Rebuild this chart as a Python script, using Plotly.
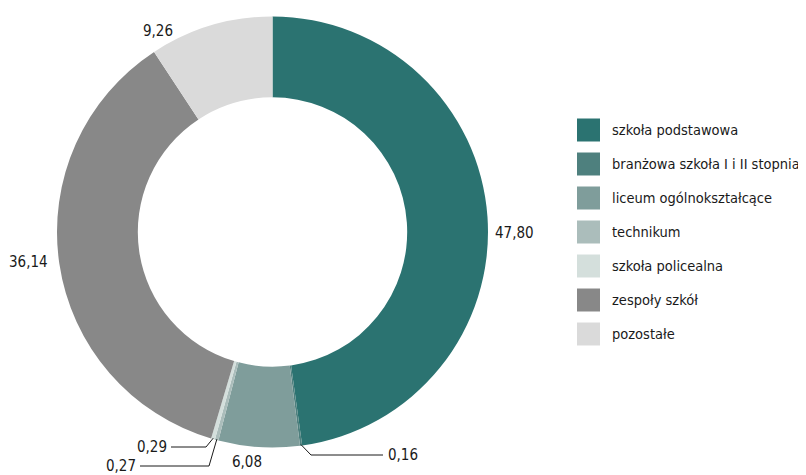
import math
import plotly.graph_objects as go

# Dane -------------------------------------------------------------
kategorie = ["szkoła podstawowa", "branżowa szkoła I i II stopnia",
             "liceum ogólnokształcące", "technikum", "szkoła policealna",
             "zespoły szkół", "pozostałe"]
udzialy = [47.80, 0.16, 6.08, 0.27, 0.29, 36.14, 9.26]
etykiety = ["47,80", "0,16", "6,08", "0,27", "0,29", "36,14", "9,26"]
kolory = ["#2b7371", "#4e807e", "#7f9d9b", "#abbdbb", "#d4dfdc",
          "#888888", "#dadada"]

W, H = 806, 475
OFF = 8  # domyślny margines <body> w przeglądarce
FONT = "DejaVu Sans Condensed, Liberation Sans Narrow, sans-serif"
FS = 15

# geometria pierścienia w pikselach okna
cx, cy, r_out = 272.5, 232, 215.5


def px(x):
    return (x - OFF) / W


def py(y):
    return 1 - (y - OFF) / H


def punkt_na_obwodzie(i, r):
    # środek kątowy wycinka i (zgodnie z ruchem wskazówek zegara od godz. 12)
    before = sum(udzialy[:i])
    ang = math.radians((before + udzialy[i] / 2) / sum(udzialy) * 360)
    return cx + r * math.sin(ang), cy - r * math.cos(ang)


fig = go.Figure(go.Pie(
    labels=kategorie, values=udzialy, sort=False, direction="clockwise",
    rotation=0, hole=0.625, textinfo="none", hoverinfo="label+value",
    marker=dict(colors=kolory, line=dict(width=0)),
    domain=dict(x=[px(cx - r_out), px(cx + r_out)],
                y=[py(cy + r_out), py(cy - r_out)]),
    showlegend=False))

annotations = []
shapes = []
font = dict(family=FONT, size=FS, color="#1a1a1a")

# etykiety bez linii odniesienia: (indeks, x, y, xanchor)
pozycje = [(0, 493, 233, "left"), (2, 247, 462, "center"),
           (5, 50, 262, "right"), (6, 175, 31, "right")]
for i, x, y, xa in pozycje:
    annotations.append(dict(x=px(x), y=py(y), xref="paper", yref="paper",
                            text=etykiety[i], showarrow=False, xanchor=xa,
                            yanchor="middle", font=font))

# etykiety z liniami odniesienia: (indeks, łokieć, koniec linii, xanchor)
odnosniki = [(1, (311, 455), (383, 455), "left"),
             (3, (209, 466), (140, 466), "right"),
             (4, (206, 447), (171, 447), "right")]
for i, (ex, ey), (kx, ky), xa in odnosniki:
    sx, sy = punkt_na_obwodzie(i, r_out - 1)
    shapes.append(dict(type="path", xref="paper", yref="paper",
                       path=f"M {px(sx)} {py(sy)} L {px(ex)} {py(ey)} L {px(kx)} {py(ky)}",
                       line=dict(color="#1a1a1a", width=1)))
    tx = kx + 3 if xa == "left" else kx - 2
    annotations.append(dict(x=px(tx), y=py(ky), xref="paper", yref="paper",
                            text=etykiety[i], showarrow=False, xanchor=xa,
                            yanchor="middle", font=font))

# legenda rysowana ręcznie (duże kwadraty)
lx, ly0, krok, bok = 577, 130, 34, 23
for j, (nazwa, kol) in enumerate(zip(kategorie, kolory)):
    yc = ly0 + j * krok
    shapes.append(dict(type="rect", xref="paper", yref="paper",
                       x0=px(lx), x1=px(lx + bok),
                       y0=py(yc + bok / 2), y1=py(yc - bok / 2),
                       fillcolor=kol, line=dict(width=0)))
    annotations.append(dict(x=px(lx + 33), y=py(yc), xref="paper", yref="paper",
                            text=nazwa, showarrow=False, xanchor="left",
                            yanchor="middle",
                            font=dict(family=FONT, size=14.5, color="#1a1a1a")))

fig.update_layout(width=W, height=H, margin=dict(l=0, r=0, t=0, b=0),
                  paper_bgcolor="white", plot_bgcolor="white",
                  annotations=annotations, shapes=shapes)
fig.write_html("out.html")
